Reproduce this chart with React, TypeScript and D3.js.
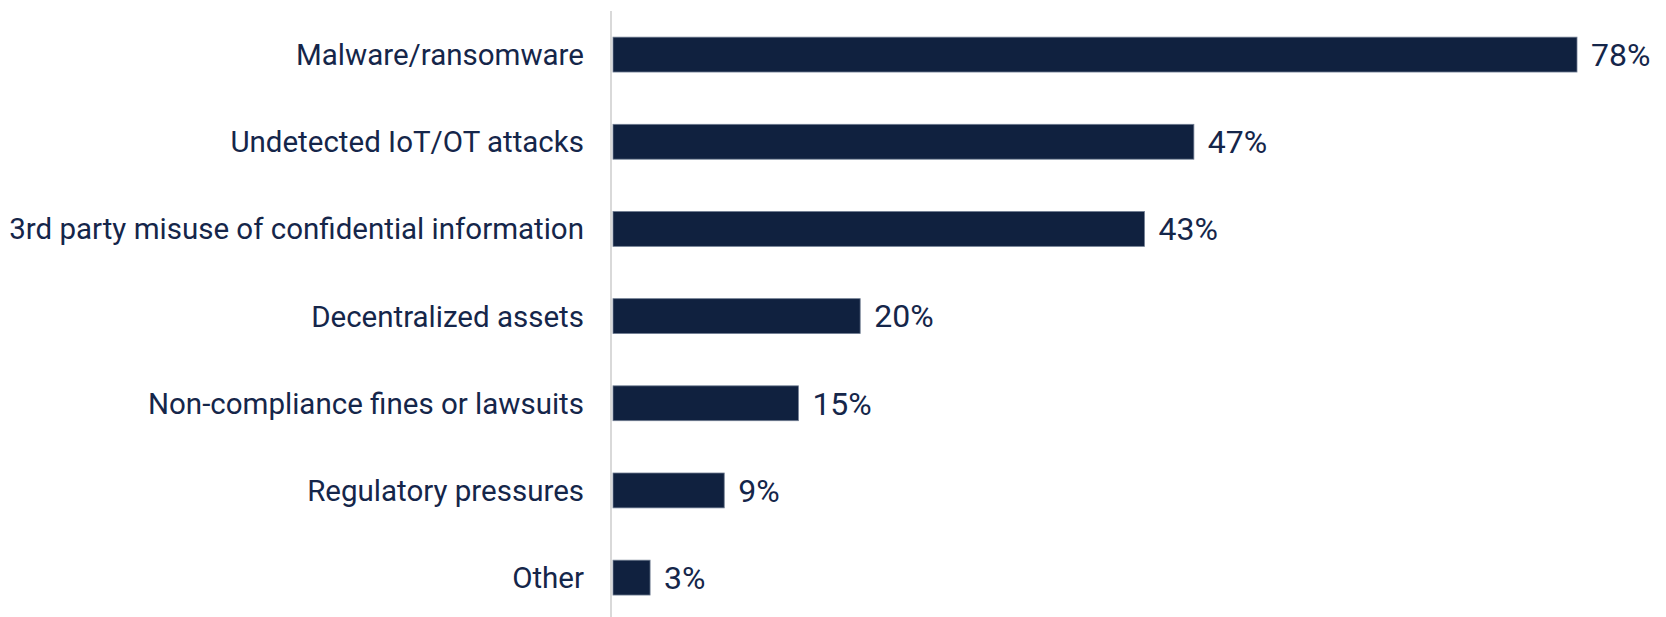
import React from "react";
import * as d3 from "d3";

const categories = [
  "Malware/ransomware",
  "Undetected IoT/OT attacks",
  "3rd party misuse of confidential information",
  "Decentralized assets",
  "Non-compliance fines or lawsuits",
  "Regulatory pressures",
  "Other",
];
const values = [78, 47, 43, 20, 15, 9, 3];
const valueLabels = ["78%", "47%", "43%", "20%", "15%", "9%", "3%"];

const W = 1666;
const H = 617;

export default function App() {
  const x = d3.scaleLinear().domain([0, 78]).range([613, 1577]);
  const y = d3
    .scaleBand<string>()
    .domain(categories)
    .range([11, 11 + 87.17 * 7])
    .paddingInner(0.6)
    .paddingOuter(0.3);
  const textColor = "#15264a";
  const barColor = "#10213f";
  const font = "Roboto, 'Noto Sans', sans-serif";
  return (
    <svg
      width={W}
      height={H}
      style={{ position: "absolute", left: 0, top: 0, background: "#fff" }}
    >
      <line x1={611} x2={611} y1={11} y2={H} stroke="#d9d9d9" strokeWidth={2} />
      {categories.map((c, i) => {
        const yc = (y(c) as number) + y.bandwidth() / 2;
        return (
          <g key={c}>
            <rect
              x={x(0)}
              y={y(c)}
              width={x(values[i]) - x(0)}
              height={y.bandwidth()}
              fill={barColor}
              stroke="#6f7c91"
              strokeWidth={0.8}
            />
            <text
              x={584}
              y={yc}
              dy="0.355em"
              textAnchor="end"
              fontFamily={font}
              fontSize={29.5}
              fill={textColor}
            >
              {c}
            </text>
            <text
              x={x(values[i]) + 14}
              y={yc}
              dy="0.355em"
              fontFamily={font}
              fontSize={32}
              fill={textColor}
            >
              {valueLabels[i]}
            </text>
          </g>
        );
      })}
    </svg>
  );
}
